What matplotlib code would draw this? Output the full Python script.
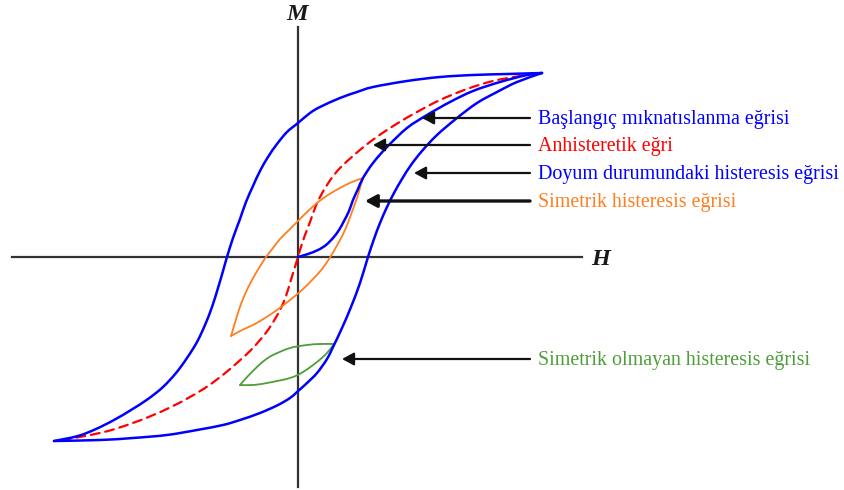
import numpy as np
import matplotlib
matplotlib.use("Agg")
import matplotlib.pyplot as plt
from matplotlib.path import Path
from matplotlib.patches import PathPatch

plt.rcParams['font.family'] = ['Liberation Serif', 'DejaVu Serif']

# curves, as (H, M) pairs
sat_desc = [(244, 184), (209, 183), (175, 182), (142, 180), (109, 176), (75, 170),
            (59, 165), (42, 159), (22, 150), (12, 144), (0, 134), (-11, 125),
            (-21, 113), (-30, 100), (-38, 86), (-45, 71), (-52, 55), (-58, 38),
            (-65, 19), (-71, 0), (-75, -14), (-80, -31), (-86, -50), (-93, -68),
            (-101, -85), (-111, -101), (-122, -116), (-135, -130), (-150, -142),
            (-167, -153), (-184, -163), (-202, -172), (-220, -179), (-244, -184)]
sat_asc = [(-244, -184), (-198, -183), (-165, -181), (-131, -178), (-101, -173),
           (-75, -168), (-58, -163), (-38, -156), (-20, -148), (-8, -141),
           (-1, -135), (9, -126), (19, -116), (29, -102), (36, -88), (44, -71),
           (53, -50), (62, -26), (70, 0), (76, 18), (82, 34), (89, 50), (96, 64),
           (104, 78), (113, 92), (124, 106), (139, 122), (159, 139), (179, 154),
           (199, 165), (219, 175), (244, 184)]
initial = [(0, 0), (10, 3), (20, 7), (28, 12), (35, 19), (41, 27), (46, 36),
           (51, 46), (55, 57), (60, 68), (65, 79), (75, 94), (89, 110), (109, 129),
           (129, 142), (152, 155), (175, 166), (202, 175), (229, 182), (244, 184)]
anhyst = [(-236, -183), (-213, -179), (-190, -174), (-168, -167), (-147, -159),
          (-127, -150), (-108, -140), (-90, -129), (-74, -117), (-60, -105),
          (-48, -94), (-38, -83), (-30, -73), (-23, -62), (-17, -51), (-12, -39),
          (-8, -26), (-4, -13), (0, 0), (2, 7), (7, 22), (12, 35), (17, 49),
          (22, 60), (29, 72), (36, 82), (44, 91), (55, 101), (68, 112), (83, 123),
          (100, 134), (119, 145), (142, 157), (169, 168), (195, 176), (222, 181),
          (244, 184)]
sym_upper = [(65, 79), (54, 75), (42, 69), (30, 62), (19, 54), (9, 45), (-1, 35),
             (-10, 26), (-18, 18), (-25, 9), (-32, 0), (-39, -11), (-46, -23),
             (-52, -35), (-57, -47), (-61, -59), (-64, -69), (-67, -79)]
sym_lower = [(-67, -79), (-56, -73), (-45, -68), (-33, -61), (-21, -53), (-8, -43),
             (4, -33), (15, -22), (24, -12), (31, -2), (37, 8), (42, 17),
             (47, 27), (51, 37), (55, 48), (59, 59), (62, 69), (65, 79)]
asym_upper = [(-58, -128), (-50, -119), (-41, -110), (-33, -103), (-25, -98),
              (-8, -91), (9, -88), (22, -87), (36, -87)]
asym_lower = [(-58, -128), (-45, -128), (-31, -126), (-8, -121), (5, -115),
              (19, -105), (29, -96), (36, -87)]

# annotations: label, colour, arrow tip H, arrow M
labels = ['Başlangıç mıknatıslanma eğrisi', 'Anhisteretik eğri',
          'Doyum durumundaki histeresis eğrisi', 'Simetrik histeresis eğrisi',
          'Simetrik olmayan histeresis eğrisi']
label_colors = ['#0000FF', '#FF0000', '#0000FF', '#FF7F1E', '#4C9F38']
tip_H = [124, 75, 116, 67, 44]
arrow_M = [139, 112, 84, 56, -102]
arrow_lw = [1.6, 1.6, 1.6, 2.4, 1.6]
tail_H = 232
text_H = 240

BLUE = '#0000FF'
RED = '#FF0000'
ORANGE = '#FF7F1E'
GREEN = '#4C9F38'

fig = plt.figure(figsize=(8.45, 4.9), dpi=100)
ax = fig.add_axes([0, 0, 1, 1])
ax.set_xlim(-298, 547)
ax.set_ylim(-233, 257)
ax.axis('off')

# axes
ax.plot([-286, 284], [0, 0], color='#333333', lw=1.6, zorder=1)
ax.plot([0, 0], [-230, 230], color='#333333', lw=1.6, zorder=1)
ax.text(-1, 237, 'M', fontsize=17.5, fontweight='bold', style='italic',
        ha='center', va='baseline', color='#1a1a1a')
ax.text(303, -8, 'H', fontsize=17.5, fontweight='bold', style='italic',
        ha='center', va='baseline', color='#1a1a1a')


def curve(pts, **kw):
    # smooth bezier path through the read points
    p = np.array(pts, dtype=float)
    n = len(p)
    verts = [p[0]]
    codes = [Path.MOVETO]
    for i in range(n - 1):
        p0 = p[i - 1] if i > 0 else p[i]
        p3 = p[i + 2] if i + 2 < n else p[i + 1]
        verts += [p[i] + (p[i + 1] - p0) / 6, p[i + 1] - (p3 - p[i]) / 6, p[i + 1]]
        codes += [Path.CURVE4] * 3
    ax.add_patch(PathPatch(Path(verts, codes), fill=False, capstyle='round',
                           joinstyle='round', **kw))


curve(sat_desc, edgecolor=BLUE, lw=1.8, zorder=3)
curve(sat_asc, edgecolor=BLUE, lw=1.8, zorder=3)
curve(initial, edgecolor=BLUE, lw=1.8, zorder=3)
curve(anhyst, edgecolor=RED, lw=1.6, linestyle=(0, (4, 2.6)), zorder=2)
curve(sym_upper, edgecolor=ORANGE, lw=1.3, zorder=2)
curve(sym_lower, edgecolor=ORANGE, lw=1.3, zorder=2)
curve(asym_upper, edgecolor=GREEN, lw=1.3, zorder=2)
curve(asym_lower, edgecolor=GREEN, lw=1.3, zorder=2)

for lab, col, th, am, lw in zip(labels, label_colors, tip_H, arrow_M, arrow_lw):
    ax.annotate('', xy=(th, am), xytext=(tail_H, am),
                arrowprops=dict(arrowstyle='-|>,head_length=0.7,head_width=0.38',
                                color='#111111', lw=lw, shrinkA=0, shrinkB=0))
    ax.text(text_H, am - 6.5, lab, color=col, fontsize=14.4, ha='left', va='baseline')

fig.savefig('out.png', dpi=100)
